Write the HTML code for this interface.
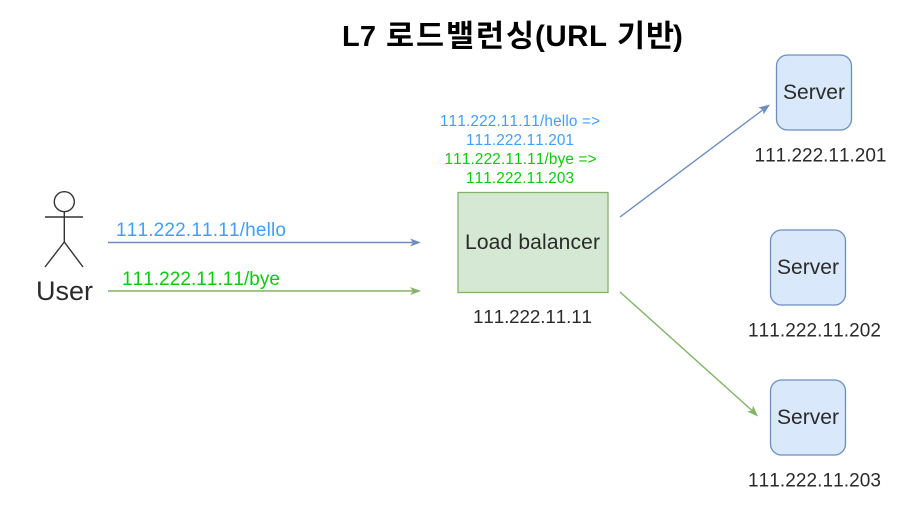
<!DOCTYPE html>
<html><head><meta charset="utf-8"><style>
html,body{margin:0;padding:0;background:#fff;width:899px;height:505px;overflow:hidden}
svg{display:block;filter:blur(.35px)}
text{font-family:"Liberation Sans","Noto Sans CJK KR",sans-serif;fill:#2a2a2a;font-kerning:none}
.b{fill:#3f9fff}
.g{fill:#0acb0a}
.t{fill:#000;font-weight:700}
</style></head><body>
<svg width="899" height="505" viewBox="0 0 899 505" xmlns="http://www.w3.org/2000/svg">
<text class="t" x="342" y="46" font-size="29" textLength="34" lengthAdjust="spacing">L7</text>
<text class="t" x="386" y="46.500" font-size="30.500" textLength="148" lengthAdjust="spacing">로드밸런싱</text>
<text class="t" x="535" y="46" font-size="29.500" textLength="72" lengthAdjust="spacing">(URL</text>
<text class="t" x="617" y="46.500" font-size="30.500" textLength="57" lengthAdjust="spacing">기반</text>
<text class="t" x="673" y="46" font-size="29.500">)</text>

<g stroke="#333" stroke-width="1.4" fill="#fff">
<circle cx="64.300" cy="201.700" r="10"/>
<path d="M64.300 211.700V242M45 217H83M64.300 242L45 267M64.300 242L83 267" fill="none"/>
</g>
<text x="36" y="300" font-size="27" textLength="57" lengthAdjust="spacing">User</text>

<text class="b" x="116" y="236" font-size="19" textLength="170" lengthAdjust="spacing">111.222.11.11/hello</text>
<line x1="108" y1="242.500" x2="414" y2="242.500" stroke="#6c8ebf" stroke-width="1.4"/>
<path d="M421 242.500L410 238.500L413 242.500L410 246.500Z" fill="#6c8ebf"/>

<text class="g" x="122" y="285" font-size="19" textLength="158" lengthAdjust="spacing">111.222.11.11/bye</text>
<line x1="108" y1="291" x2="414" y2="291" stroke="#82b366" stroke-width="1.4"/>
<path d="M421 291L410 287L413 291L410 295Z" fill="#82b366"/>

<g font-size="15.300">
<text class="b" x="440" y="126" textLength="160" lengthAdjust="spacing">111.222.11.11/hello =&gt;</text>
<text class="b" x="466" y="145" textLength="108" lengthAdjust="spacing">111.222.11.201</text>
<text class="g" x="444.500" y="164" textLength="152" lengthAdjust="spacing">111.222.11.11/bye =&gt;</text>
<text class="g" x="466" y="183" textLength="108" lengthAdjust="spacing">111.222.11.203</text>
</g>

<rect x="458" y="192.500" width="150" height="100" fill="#d5e8d4" stroke="#82b366" stroke-width="1.300"/>
<text x="465" y="249" font-size="21" textLength="135" lengthAdjust="spacing">Load balancer</text>
<text x="473" y="323" font-size="18.800" textLength="119" lengthAdjust="spacing">111.222.11.11</text>

<line x1="620" y1="217" x2="764" y2="109" stroke="#6c8ebf" stroke-width="1.4"/>
<path d="M770 104.500L758.500 107.500L763 110L763.500 114.500Z" fill="#6c8ebf"/>
<line x1="620" y1="292" x2="752" y2="410.500" stroke="#82b366" stroke-width="1.4"/>
<path d="M758 416.500L753 405.500L752 410.500L747 411.500Z" fill="#82b366"/>

<rect x="776.500" y="55" width="75" height="75" rx="11" fill="#dae8fc" stroke="#6c8ebf" stroke-width="1.300"/>
<text x="783" y="99" font-size="21" textLength="62" lengthAdjust="spacing">Server</text>
<text x="754.500" y="161.500" font-size="19" textLength="132" lengthAdjust="spacing">111.222.11.201</text>

<rect x="770.500" y="230" width="75" height="75" rx="11" fill="#dae8fc" stroke="#6c8ebf" stroke-width="1.300"/>
<text x="777" y="274" font-size="21" textLength="62" lengthAdjust="spacing">Server</text>
<text x="748" y="336.500" font-size="19" textLength="133" lengthAdjust="spacing">111.222.11.202</text>

<rect x="770.500" y="380" width="75" height="75" rx="11" fill="#dae8fc" stroke="#6c8ebf" stroke-width="1.300"/>
<text x="777" y="424" font-size="21" textLength="62" lengthAdjust="spacing">Server</text>
<text x="748" y="486.500" font-size="19" textLength="133" lengthAdjust="spacing">111.222.11.203</text>
</svg>
</body></html>
